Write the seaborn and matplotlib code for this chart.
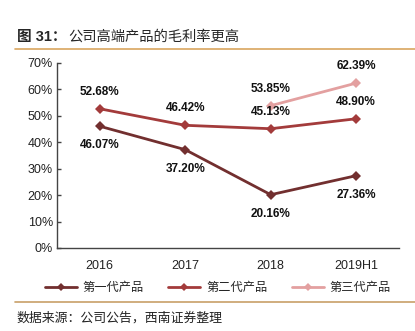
import matplotlib
matplotlib.use("Agg")
import matplotlib.pyplot as plt
import seaborn as sns
import pandas as pd
import numpy as np
from matplotlib.lines import Line2D

categories = ["2016", "2017", "2018", "2019H1"]
gen1 = [46.07, 37.20, 20.16, 27.36]
gen2 = [52.68, 46.42, 45.13, 48.90]
gen3 = [np.nan, np.nan, 53.85, 62.39]
series_names = ["第一代产品", "第二代产品", "第三代产品"]
colors = ["#722F2F", "#A33B3B", "#E3A0A0"]
yticks = [0, 10, 20, 30, 40, 50, 60, 70]

sns.set_theme(style="white")
plt.rcParams['font.family'] = ['Liberation Sans', 'Noto Sans CJK SC', 'DejaVu Sans']

rows = []
for name, vals in zip(series_names, [gen1, gen2, gen3]):
    for i, (c, v) in enumerate(zip(categories, vals)):
        rows.append({"x": i, "cat": c, "series": name, "value": v})
df = pd.DataFrame(rows)

fig = plt.figure(figsize=(4.15, 3.31), dpi=100)
ax = fig.add_axes([0.1373, 0.2508, 0.8241, 0.5589])

sns.lineplot(data=df.dropna(), x="x", y="value", hue="series", hue_order=series_names,
             palette=colors, marker="D", markersize=5, markeredgewidth=0,
             linewidth=2, ax=ax, legend=False)

ax.set_xlim(-0.5, 3.5)
ax.set_ylim(0, 70)
ax.set_yticks(yticks)
ax.set_yticklabels([f"{t}%" for t in yticks], fontsize=9, color="#222222")
ax.set_xticks(range(len(categories)))
ax.set_xticklabels(categories, fontsize=9, color="#222222")
ax.set_xticks([0.5, 1.5, 2.5, 3.5], minor=True)
ax.tick_params(axis="x", which="major", length=0, pad=9)
ax.tick_params(axis="x", which="minor", direction="in", length=3, color="#444444", width=1)
ax.tick_params(axis="y", direction="in", length=3, color="#444444", width=1, left=True, pad=3)
ax.set_xlabel("")
ax.set_ylabel("")
for s in ["top", "right"]:
    ax.spines[s].set_visible(False)
for s in ["left", "bottom"]:
    ax.spines[s].set_color("#444444")
    ax.spines[s].set_linewidth(1)

lab_kw = dict(fontsize=8.5, fontweight="bold", ha="center", color="#111111")
for i, v in enumerate(gen1):
    ax.annotate(f"{v:.2f}%", (i, v), xytext=(0, -9.5), textcoords="offset points", va="top", **lab_kw)
for i, v in enumerate(gen2):
    ax.annotate(f"{v:.2f}%", (i, v), xytext=(0, 8), textcoords="offset points", va="bottom", **lab_kw)
for i, v in enumerate(gen3):
    if not np.isnan(v):
        ax.annotate(f"{v:.2f}%", (i, v), xytext=(0, 8), textcoords="offset points", va="bottom", **lab_kw)

handles = [Line2D([], [], color=c, marker="D", markersize=4, linewidth=2, markeredgewidth=0) for c in colors]
fig.legend(handles, series_names, loc="center", bbox_to_anchor=(0.525, 0.13), ncol=3, frameon=False,
           handlelength=2.6, columnspacing=2.0, handletextpad=0.5,
           prop={"family": ["Noto Sans CJK SC"], "size": 8.8})

fig.text(0.04, 0.888, "图 31：", fontsize=10.5, fontweight="bold", family=["Liberation Sans", "Noto Sans CJK SC"], va="center")
fig.text(0.165, 0.888, "公司高端产品的毛利率更高", fontsize=10.3, family=["Noto Sans CJK SC"], va="center")
fig.add_artist(Line2D([0.036, 1.0], [0.853, 0.853], color="#D9A55F", linewidth=1.2, transform=fig.transFigure))
fig.add_artist(Line2D([0.036, 1.0], [0.088, 0.088], color="#C8A068", linewidth=1.2, transform=fig.transFigure))
fig.text(0.04, 0.04, "数据来源：公司公告，西南证券整理", fontsize=9.3, style="italic",
         family=["Noto Sans CJK SC"], va="center", color="#222222")

fig.savefig("out.png", dpi=100)
